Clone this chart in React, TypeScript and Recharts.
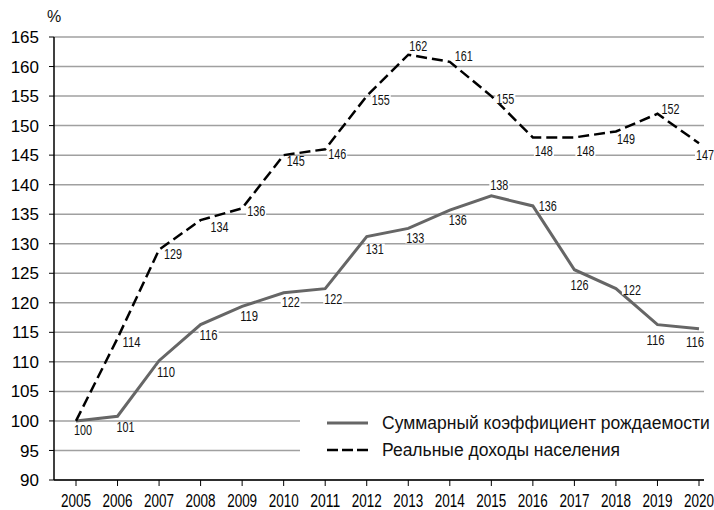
import {
  LineChart,
  Line,
  XAxis,
  YAxis,
  CartesianGrid,
  LabelList,
} from "recharts";

const years = [
  "2005", "2006", "2007", "2008", "2009", "2010", "2011", "2012",
  "2013", "2014", "2015", "2016", "2017", "2018", "2019", "2020",
];
const fertility = [
  100, 100.8, 110.2, 116.3, 119.4, 121.7, 122.4, 131.2,
  132.6, 135.7, 138.1, 136.4, 125.6, 122.4, 116.3, 115.6,
];
const income = [
  100, 114, 129, 134, 136, 145, 146, 155,
  162, 160.8, 155, 148, 148, 149, 152, 147,
];
const yTicks = [90, 95, 100, 105, 110, 115, 120, 125, 130, 135, 140, 145, 150, 155, 160, 165];

const fertilityName = "Суммарный коэффициент рождаемости";
const incomeName = "Реальные доходы населения";

// where each value label sits, relative to its point
const fertilityLabelOffsets: ([number, number] | null)[] = [
  [7, 9], [8, 11], [7, 11], [8, 10], [7, 10], [7, 9], [8, 10], [8, 12],
  [7, 10], [8, 10], [8, -11], [15, 0], [5, 15], [16, 1], [-2, 15], [-4, 13],
];
const incomeLabelOffsets: ([number, number] | null)[] = [
  null, [14, 4], [14, 4], [19, 7], [14, 3], [12, 6], [12, 5], [14, 4],
  [10, -9], [14, -6], [14, 3], [11, 14], [11, 14], [10, 7], [13, -5], [6, 12],
];

const data = years.map((year, i) => ({
  year,
  fertility: fertility[i],
  income: income[i],
}));

const sans = "'Liberation Sans', Arial, sans-serif";

function PointLabel(props: any) {
  const { x, y, value, index, offsets } = props;
  const off = offsets[index];
  if (!off) return null;
  const cx = x + off[0];
  const cy = y + off[1];
  return (
    <g>
      <rect x={cx - 10} y={cy - 5} width={20} height={10} fill="#fff" />
      <text
        x={cx}
        y={cy}
        textAnchor="middle"
        dominantBaseline="central"
        fontSize={14}
        fontFamily={sans}
        fill="#111"
        textLength={18}
        lengthAdjust="spacingAndGlyphs"
      >
        {Math.round(value)}
      </text>
    </g>
  );
}

function YearTick(props: any) {
  const { x, y, payload } = props;
  return (
    <text
      x={x}
      y={y + 19}
      textAnchor="middle"
      fontSize={18}
      fontFamily={sans}
      fill="#000"
      textLength={30}
      lengthAdjust="spacingAndGlyphs"
    >
      {payload.value}
    </text>
  );
}

function LegendBox() {
  return (
    <svg
      width={414}
      height={78}
      style={{ position: "absolute", left: 300, top: 400, background: "#fff" }}
    >
      <line x1={27} x2={68} y1={23} y2={23} stroke="#666" strokeWidth={3} />
      <line x1={27} x2={68} y1={50} y2={50} stroke="#000" strokeWidth={2.5} strokeDasharray="11 4" />
      <text x={82} y={23} dominantBaseline="central" fontSize={17.5} fontFamily={sans} fill="#111">
        {fertilityName}
      </text>
      <text x={82} y={50} dominantBaseline="central" fontSize={17.5} fontFamily={sans} fill="#111">
        {incomeName}
      </text>
    </svg>
  );
}

export default function App() {
  return (
    <div style={{ position: "absolute", left: 0, top: 0, width: 714, height: 510, background: "#fff" }}>
      <LineChart
        width={714}
        height={510}
        data={data}
        margin={{ top: 37, right: 10, left: 0, bottom: 0 }}
      >
        <CartesianGrid vertical={false} stroke="#a0a0a0" strokeWidth={1.5} />
        <XAxis
          dataKey="year"
          height={30}
          interval={0}
          padding={{ left: 22, right: 5 }}
          axisLine={{ stroke: "#000", strokeWidth: 1.5 }}
          tickLine={{ stroke: "#000" }}
          tickSize={6}
          tick={<YearTick />}
        />
        <YAxis
          width={54}
          domain={[90, 165]}
          ticks={yTicks}
          interval={0}
          axisLine={{ stroke: "#000", strokeWidth: 1.5 }}
          tickLine={{ stroke: "#000" }}
          tickSize={5}
          tickMargin={10}
          tick={{ fontSize: 17, fill: "#000", fontFamily: sans }}
        />
        <Line
          type="linear"
          dataKey="fertility"
          name={fertilityName}
          stroke="#666"
          strokeWidth={3}
          dot={false}
          isAnimationActive={false}
        >
          <LabelList
            dataKey="fertility"
            content={(p: any) => <PointLabel {...p} offsets={fertilityLabelOffsets} />}
          />
        </Line>
        <Line
          type="linear"
          dataKey="income"
          name={incomeName}
          stroke="#000"
          strokeWidth={2.5}
          strokeDasharray="11 5"
          dot={false}
          isAnimationActive={false}
        >
          <LabelList
            dataKey="income"
            content={(p: any) => <PointLabel {...p} offsets={incomeLabelOffsets} />}
          />
        </Line>
      </LineChart>
      <div
        style={{
          position: "absolute",
          left: 47,
          top: 8,
          fontFamily: sans,
          fontSize: 16,
          color: "#111",
        }}
      >
        %
      </div>
      <LegendBox />
    </div>
  );
}
